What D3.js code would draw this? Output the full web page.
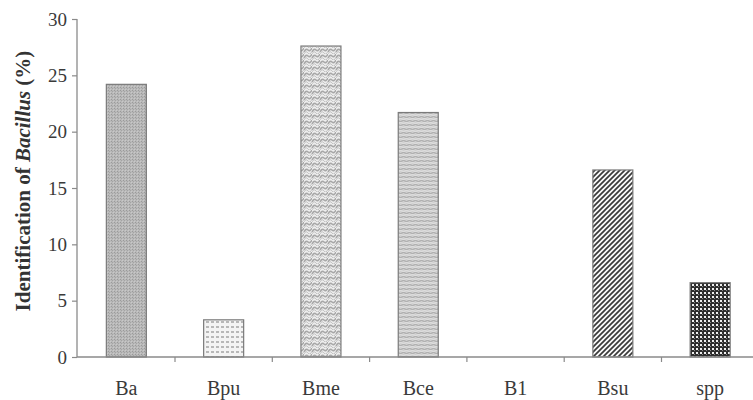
<!DOCTYPE html>
<html><head><meta charset="utf-8">
<script src="https://cdn.jsdelivr.net/npm/d3@7"></script>
<style>body{margin:0;background:#fff}svg{display:block}</style>
</head><body>
<script>
const categories = ["Ba","Bpu","Bme","Bce","B1","Bsu","spp"];
const values = [24.2, 3.3, 27.6, 21.7, 0, 16.6, 6.6];
const yTicks = [0,5,10,15,20,25,30];
const patternIds = ["pBa","pBpu","pBme","pBce","pB1","pBsu","pSpp"];

const W=753,H=400;
const svg=d3.select("body").append("svg").attr("width",W).attr("height",H);
const defs=svg.append("defs");

function pat(id,w,h){return defs.append("pattern").attr("id",id).attr("patternUnits","userSpaceOnUse").attr("width",w).attr("height",h);}
let p=pat("pBa",3,3);
p.append("rect").attr("width",3).attr("height",3).attr("fill","#b9b9b9");
p.append("rect").attr("x",0).attr("y",0).attr("width",1).attr("height",1).attr("fill","#9a9a9a");
p.append("rect").attr("x",1).attr("y",1).attr("width",1).attr("height",1).attr("fill","#a4a4a4");
p.append("rect").attr("x",2).attr("y",2).attr("width",1).attr("height",1).attr("fill","#c8c8c8");

p=pat("pBpu",5,5);
p.append("rect").attr("width",5).attr("height",5).attr("fill","#f4f4f4");
p.append("rect").attr("x",1).attr("y",1).attr("width",3).attr("height",2).attr("fill","#b8b8b8");

p=pat("pBme",8,6);
p.append("rect").attr("width",8).attr("height",6).attr("fill","#eeeeee");
p.append("path").attr("d","M0,4 Q2,0 4,2 T8,0").attr("fill","none").attr("stroke","#a8a8a8").attr("stroke-width",1.6);
p.append("path").attr("d","M0,6 Q2,2 4,5 T8,3").attr("fill","none").attr("stroke","#c4c4c4").attr("stroke-width",1);

p=pat("pBce",6,4);
p.append("rect").attr("width",6).attr("height",4).attr("fill","#cfcfcf");
p.append("path").attr("d","M0,1 Q1.5,0 3,1 T6,1").attr("fill","none").attr("stroke","#a6a6a6").attr("stroke-width",1);
p.append("path").attr("d","M0,3 Q1.5,4 3,3 T6,3").attr("fill","none").attr("stroke","#e6e6e6").attr("stroke-width",0.8);

p=pat("pB1",4,4);
p.append("rect").attr("width",4).attr("height",4).attr("fill","#ccc");

p=pat("pBsu",5,5);
p.append("rect").attr("width",5).attr("height",5).attr("fill","#fafafa");
p.append("path").attr("d","M-1,1 L1,-1 M0,5 L5,0 M4,6 L6,4").attr("stroke","#3a3a3a").attr("stroke-width",1.7);

p=pat("pSpp",4,4);
p.append("rect").attr("width",4).attr("height",4).attr("fill","#2e2e2e");
p.append("rect").attr("x",0).attr("y",0).attr("width",2).attr("height",2).attr("fill","#f0f0f0");
p.append("rect").attr("x",2).attr("y",2).attr("width",1).attr("height",1).attr("fill","#888");

const x0=77.7, bandW=97.3;
const x=d3.scaleBand().domain(categories).range([x0,x0+bandW*categories.length]).paddingInner(0).paddingOuter(0);
const y=d3.scaleLinear().domain([0,30]).range([357,19]);
const barW=40;

const axisColor="#8a8a8a", textColor="#3a3a3a";

svg.append("g").selectAll("rect").data(categories).join("rect")
  .attr("x",d=>x(d)+x.bandwidth()/2-barW/2)
  .attr("y",(d,i)=>y(values[i]))
  .attr("width",barW)
  .attr("height",(d,i)=>y(0)-y(values[i]))
  .attr("fill",(d,i)=>`url(#${patternIds[i]})`)
  .attr("stroke",(d,i)=>values[i]>0?"#7a7a7a":"none")
  .attr("stroke-width",1.2);

const yAxis=svg.append("g").attr("transform","translate(77,0)")
  .call(d3.axisLeft(y).tickValues(yTicks).tickSize(5).tickPadding(5));
yAxis.select(".domain").attr("stroke",axisColor).attr("stroke-width",1.3).attr("d",`M0,${y(30)}V${y(0)}`);
yAxis.selectAll(".tick line").attr("stroke",axisColor).attr("stroke-width",1.2);
yAxis.selectAll(".tick text").attr("fill",textColor).attr("font-family","Liberation Serif, serif").attr("font-size",19);

const xAxisG=svg.append("g").attr("transform",`translate(0,${y(0)})`);
xAxisG.append("line").attr("x1",77).attr("x2",W).attr("y1",0).attr("y2",0).attr("stroke",axisColor).attr("stroke-width",1.5);
const sepTicks=categories.slice(1).map(d=>x(d));
xAxisG.selectAll("line.sep").data(sepTicks).join("line").attr("class","sep")
  .attr("x1",d=>d).attr("x2",d=>d).attr("y1",0).attr("y2",5).attr("stroke",axisColor).attr("stroke-width",1.2);
xAxisG.selectAll("text").data(categories).join("text")
  .attr("x",d=>x(d)+x.bandwidth()/2).attr("y",38)
  .attr("text-anchor","middle").attr("fill",textColor)
  .attr("font-family","Liberation Serif, serif").attr("font-size",20).text(d=>d);

const lab=svg.append("text").attr("transform",`translate(30,181) rotate(-90)`)
  .attr("text-anchor","middle").attr("fill","#333").attr("font-family","Liberation Serif, serif")
  .attr("font-size",21).attr("font-weight","bold");
lab.append("tspan").text("Identification of ");
lab.append("tspan").attr("font-style","italic").text("Bacillus");
lab.append("tspan").text(" (%)");
</script>
</body></html>
